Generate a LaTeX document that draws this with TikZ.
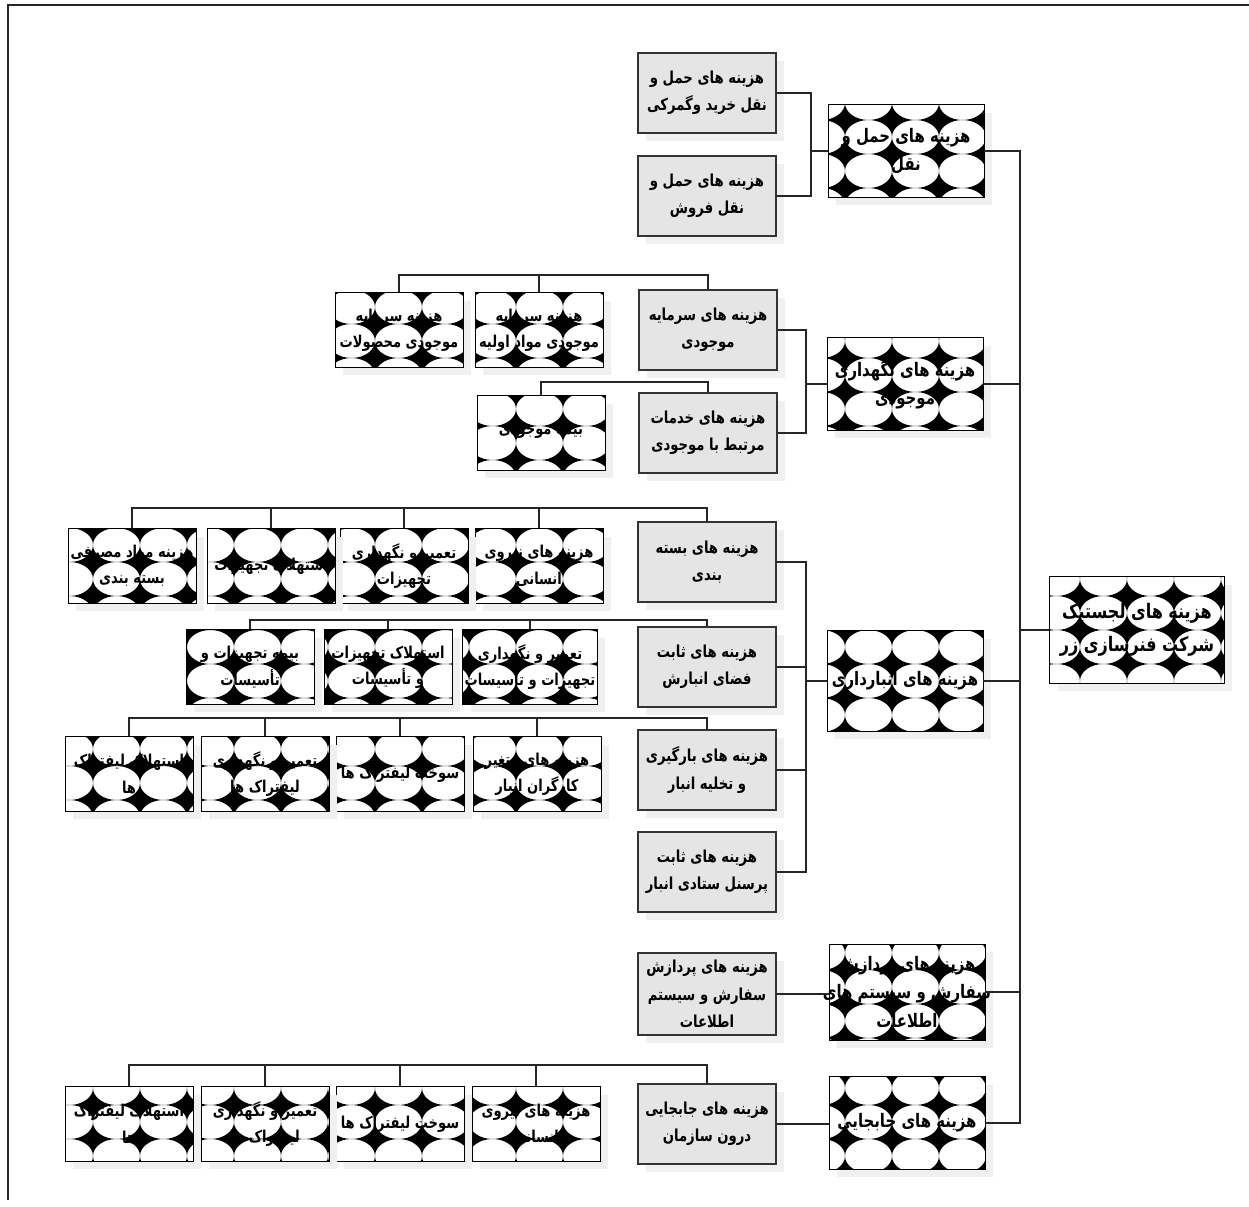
\documentclass[tikz,border=0pt]{standalone}
\usepackage{fontspec}
\newfontfamily\persianfont[Script=Arabic, FakeStretch=0.8]{DejaVu Sans}
\TeXXeTstate=1
\usetikzlibrary{positioning,shadows,patterns.meta}
\newcommand{\fatext}[1]{\makebox[0pt]{\beginR #1\endR}}
\tikzdeclarepattern{
  name=starcells,
  type=uncolored,
  bounding box={(0,0) and (0.94cm,0.68cm)},
  tile size={(0.94cm,0.68cm)},
  code={
    \fill[even odd rule] (0,0) rectangle (0.94cm,0.68cm)
      (0.47cm,0.34cm) ellipse [x radius=0.47cm, y radius=0.34cm];
  }
}
\tikzset{
  link/.style={line width=0.8pt, black!85},
  boxshadow/.style={general shadow={fill=black!6, shadow xshift=0.16cm, shadow yshift=-0.16cm}},
  graybox/.style={draw=black!80, line width=0.9pt, fill=gray!20, boxshadow, minimum width=2.76cm, minimum height=1.6cm, align=center, inner sep=0pt, font=\persianfont\bfseries\fontsize{9.4}{15.5}\selectfont},
  tilebox/.style={draw, line width=0.5pt, boxshadow, preaction={fill=white}, pattern=starcells, pattern color=black, minimum width=2.56cm, minimum height=1.5cm, align=center, inner sep=0pt, font=\persianfont\bfseries\fontsize{9.3}{15}\selectfont},
  headbox/.style={tilebox, minimum width=3.12cm, minimum height=1.86cm, font=\persianfont\bfseries\fontsize{10.6}{16}\selectfont},
  rootbox/.style={tilebox, minimum width=3.5cm, minimum height=2.14cm, font=\persianfont\bfseries\fontsize{11.4}{19}\selectfont}
}
\begin{document}
\begin{tikzpicture}[x=0.02cm, y=-0.02cm]
  \useasboundingbox (0,0) rectangle (1249,1207);
  \draw[link] (8,1200) -- (8,5) -- (1249,5);
  % root and first level
  \node[rootbox] (root) at (1137,630) {\fatext{هزینه های لجستیک}\\\fatext{شرکت فنرسازی زر}};
  \node[headbox] (trans) at (906,151) {\fatext{هزینه های حمل و}\\\fatext{نقل}};
  \node[headbox] (stock) at (905,384) {\fatext{هزینه های نگهداری}\\\fatext{موجودی}};
  \node[headbox, minimum height=2.02cm] (store) at (905,681) {\fatext{هزینه های انبارداری}};
  \node[headbox, minimum height=1.92cm] (order) at (907,992) {\fatext{هزینه های پردازش}\\\fatext{سفارش و سیستم های}\\\fatext{اطلاعات}};
  \node[headbox] (move) at (907,1123) {\fatext{هزینه های جابجایی}};
  % second level
  \node[graybox] (transbuy) at (707,93) {\fatext{هزینه های حمل و}\\\fatext{نقل خرید وگمرکی}};
  \node[graybox] (transsell) at (707,196) {\fatext{هزینه های حمل و}\\\fatext{نقل فروش}};
  \node[graybox] (stockcap) at (708,330) {\fatext{هزینه های سرمایه}\\\fatext{موجودی}};
  \node[graybox] (stocksrv) at (708,433) {\fatext{هزینه های خدمات}\\\fatext{مرتبط با موجودی}};
  \node[graybox] (pack) at (707,562) {\fatext{هزینه های بسته}\\\fatext{بندی}};
  \node[graybox] (space) at (707,667) {\fatext{هزینه های ثابت}\\\fatext{فضای انبارش}};
  \node[graybox] (load) at (707,770) {\fatext{هزینه های بارگیری}\\\fatext{و تخلیه انبار}};
  \node[graybox] (staff) at (707,872) {\fatext{هزینه های ثابت}\\\fatext{پرسنل ستادی انبار}};
  \node[graybox, minimum height=1.64cm] (orderinfo) at (707,994) {\fatext{هزینه های پردازش}\\\fatext{سفارش و سیستم}\\\fatext{اطلاعات}};
  \node[graybox] (moveint) at (707,1124) {\fatext{هزینه های جابجایی}\\\fatext{درون سازمان}};
  % third level
  \node[tilebox] (capraw) at (539,330) {\fatext{هزینه سرمایه}\\\fatext{موجودی مواد اولیه}};
  \node[tilebox] (capprod) at (399,330) {\fatext{هزینه سرمایه}\\\fatext{موجودی محصولات}};
  \node[tilebox] (stockins) at (541,433) {\fatext{بیمه موجودی}};
  \node[tilebox] (packlabor) at (539,566) {\fatext{هزینه های نیروی}\\\fatext{انسانی}};
  \node[tilebox] (packrep) at (404,566) {\fatext{تعمیر و نگهداری}\\\fatext{تجهیزات}};
  \node[tilebox] (packdep) at (271,566) {\fatext{استهلاک تجهیزات}};
  \node[tilebox] (packmat) at (132,566) {\fatext{هزینه مواد مصرفی}\\\fatext{بسته بندی}};
  \node[tilebox, minimum width=2.7cm] (spacerep) at (530,667) {\fatext{تعمیر و نگهداری}\\\fatext{تجهیزات و تأسیسات}};
  \node[tilebox] (spacedep) at (388,667) {\fatext{استهلاک تجهیزات}\\\fatext{و تأسیسات}};
  \node[tilebox] (spaceins) at (250,667) {\fatext{بیمه تجهیزات و}\\\fatext{تأسیسات}};
  \node[tilebox] (loadvar) at (537,774) {\fatext{هزینه های متغیر}\\\fatext{کارگران انبار}};
  \node[tilebox] (loadfuel) at (400,774) {\fatext{سوخت لیفتراک ها}};
  \node[tilebox] (loadrep) at (265,774) {\fatext{تعمیر و نگهداری}\\\fatext{لیفتراک ها}};
  \node[tilebox] (loaddep) at (129,774) {\fatext{استهلاک لیفتراک}\\\fatext{ها}};
  \node[tilebox] (movelabor) at (536,1124) {\fatext{هزینه های نیروی}\\\fatext{انسانی}};
  \node[tilebox] (movefuel) at (400,1124) {\fatext{سوخت لیفتراک ها}};
  \node[tilebox] (moverep) at (265,1124) {\fatext{تعمیر و نگهداری}\\\fatext{لیفتراک ها}};
  \node[tilebox] (movedep) at (129,1124) {\fatext{استهلاک لیفتراک}\\\fatext{ها}};
  % trunk
  \coordinate (trunk) at (1020,0);
  \draw[link] (trans.east) -- (trans.east -| trunk) -- (move.east -| trunk) -- (move.east);
  \foreach \n in {stock,store,order} \draw[link] (\n.east) -- (\n.east -| trunk);
  \draw[link] (root.west) -- (root.west -| trunk);
  % side buses
  \coordinate (transbus) at (811,0);
  \draw[link] (transbuy.east) -- (transbuy.east -| transbus) -- (transsell.east -| transbus) -- (transsell.east);
  \draw[link] (trans.west) -- (trans.west -| transbus);
  \coordinate (stockbus) at (806,0);
  \draw[link] (stockcap.east) -- (stockcap.east -| stockbus) -- (stocksrv.east -| stockbus) -- (stocksrv.east);
  \draw[link] (stock.west) -- (stock.west -| stockbus);
  \coordinate (storebus) at (806,0);
  \draw[link] (pack.east) -- (pack.east -| storebus) -- (staff.east -| storebus) -- (staff.east);
  \foreach \n in {space,load} \draw[link] (\n.east) -- (\n.east -| storebus);
  \draw[link] (store.west) -- (store.west -| storebus);
  \draw[link] (orderinfo.east) -- (orderinfo.east -| order.west);
  \draw[link] (moveint.east) -- (moveint.east -| move.west);
  % top buses
  \coordinate (capbus) at (0,275);
  \draw[link] (stockcap.north) -- (stockcap.north |- capbus) -- (capprod.north |- capbus) -- (capprod.north);
  \draw[link] (capraw.north) -- (capraw.north |- capbus);
  \coordinate (srvbus) at (0,382);
  \draw[link] (stocksrv.north) -- (stocksrv.north |- srvbus) -- (stockins.north |- srvbus) -- (stockins.north);
  \coordinate (packbus) at (0,508);
  \draw[link] (pack.north) -- (pack.north |- packbus) -- (packmat.north |- packbus) -- (packmat.north);
  \foreach \n in {packlabor,packrep,packdep} \draw[link] (\n.north) -- (\n.north |- packbus);
  \coordinate (spacebus) at (0,620);
  \draw[link] (space.north) -- (space.north |- spacebus) -- (spaceins.north |- spacebus) -- (spaceins.north);
  \foreach \n in {spacerep,spacedep} \draw[link] (\n.north) -- (\n.north |- spacebus);
  \coordinate (loadbus) at (0,718);
  \draw[link] (load.north) -- (load.north |- loadbus) -- (loaddep.north |- loadbus) -- (loaddep.north);
  \foreach \n in {loadvar,loadfuel,loadrep} \draw[link] (\n.north) -- (\n.north |- loadbus);
  \coordinate (movebus) at (0,1065);
  \draw[link] (moveint.north) -- (moveint.north |- movebus) -- (movedep.north |- movebus) -- (movedep.north);
  \foreach \n in {movelabor,movefuel,moverep} \draw[link] (\n.north) -- (\n.north |- movebus);
\end{tikzpicture}
\end{document}
